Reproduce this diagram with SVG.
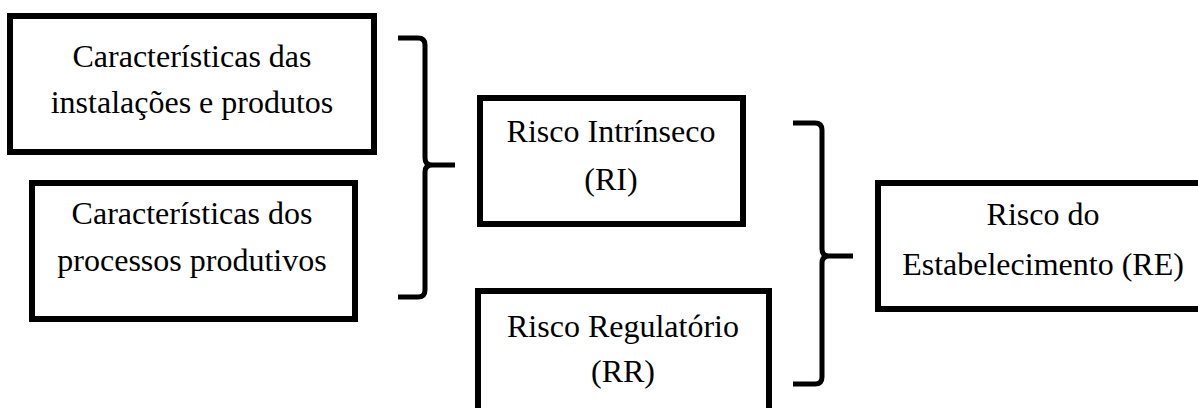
<svg xmlns="http://www.w3.org/2000/svg" width="1198" height="408" viewBox="0 0 1198 408">
<style>
.box{fill:#fff;stroke:#000;stroke-width:6}
.br{fill:none;stroke:#000;stroke-width:5;stroke-linecap:butt;stroke-linejoin:round}
text{font-family:"Liberation Serif","Times New Roman",serif;font-size:32px;fill:#000;text-anchor:middle}
</style>
<rect width="1198" height="408" fill="#fff"/>
<g id="n1">
<rect class="box" x="10" y="16" width="364" height="136"/>
<text x="192" y="67">Características das</text>
<text x="192" y="113">instalações e produtos</text>
</g>
<g id="n2">
<rect class="box" x="32" y="183" width="323" height="136"/>
<text x="192" y="224">Características dos</text>
<text x="192" y="271">processos produtivos</text>
</g>
<g id="n3">
<rect class="box" x="480" y="98" width="263" height="126"/>
<text x="611" y="142">Risco Intrínseco</text>
<text x="611" y="190">(RI)</text>
</g>
<g id="n4">
<rect class="box" x="478" y="291" width="291" height="130"/>
<text x="623" y="337">Risco Regulatório</text>
<text x="623" y="382">(RR)</text>
</g>
<g id="n5">
<rect class="box" x="878" y="183" width="330" height="126"/>
<text x="1043" y="225">Risco do</text>
<text x="1043" y="275">Estabelecimento (RE)</text>
</g>
<g id="connectors">
<path class="br" d="M398,38 H418 Q425,38 425,45 V158 Q425,165 432,165 H455 M432,165 Q425,165 425,172 V290 Q425,297 418,297 H398"/>
<path class="br" d="M793,123 H815 Q822,123 822,130 V249 Q822,256 829,256 H853 M829,256 Q822,256 822,263 V377 Q822,384 815,384 H793"/>
</g>
</svg>
